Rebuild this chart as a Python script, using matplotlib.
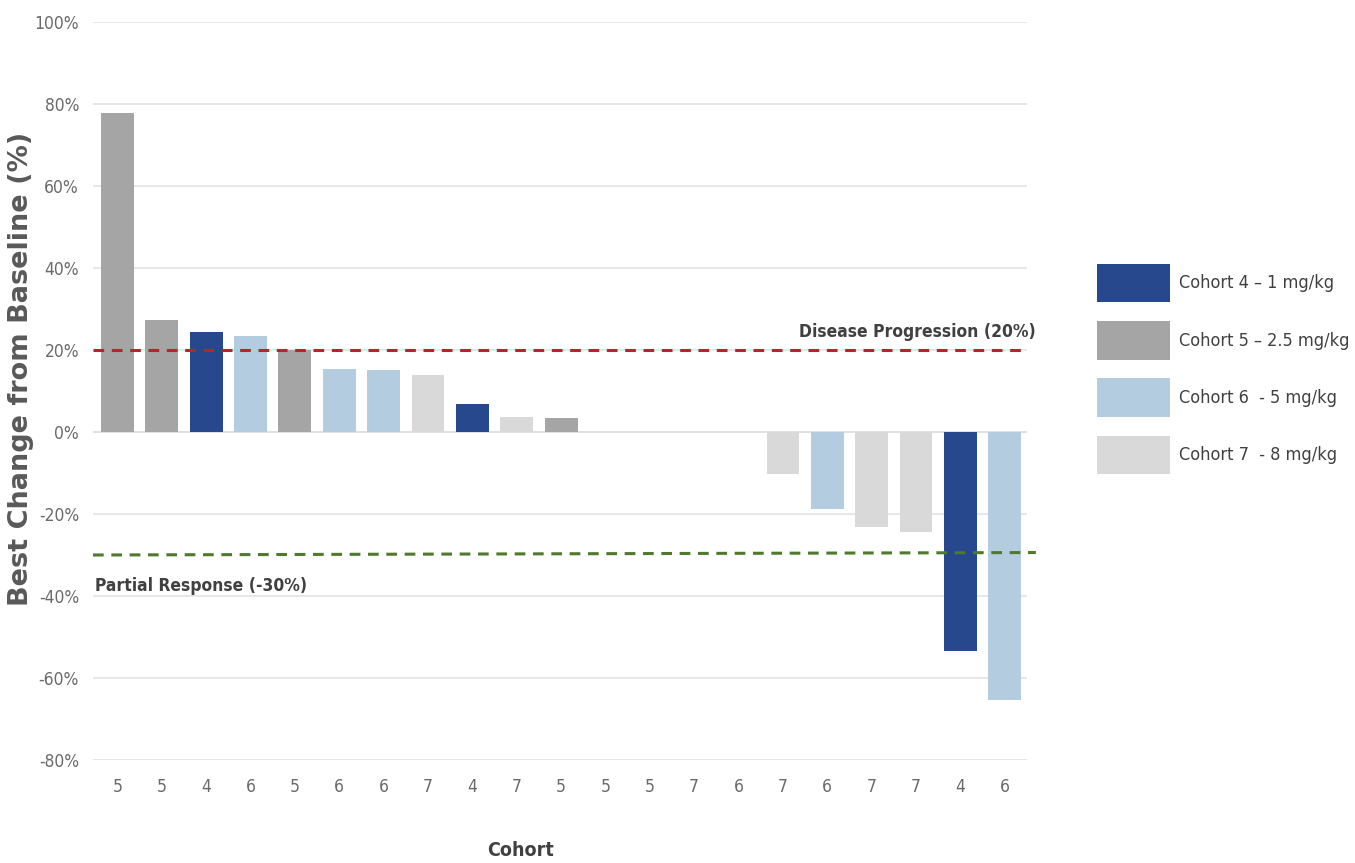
import matplotlib
matplotlib.use('Agg')
import matplotlib.pyplot as plt
from matplotlib.patches import Patch
from matplotlib.ticker import FuncFormatter

# 数据
cohorts = [5, 5, 4, 6, 5, 6, 6, 7, 4, 7, 5, 5, 5, 7, 6, 7, 6, 7, 7, 4, 6]
best_change = [77.8, 27.3, 24.4, 23.4, 20.0, 15.4, 15.1, 13.9, 6.8, 3.7, 3.4,
               0, 0, 0, 0, -10.2, -18.8, -23.2, -24.4, -53.4, -65.4]
legend_labels = {4: 'Cohort 4 \u2013 1 mg/kg', 5: 'Cohort 5 \u2013 2.5 mg/kg',
                 6: 'Cohort 6  - 5 mg/kg', 7: 'Cohort 7  - 8 mg/kg'}
progression_level = 20
response_level = -30

colors = {4: '#27488C', 5: '#A5A5A5', 6: '#B3CCE0', 7: '#D9D9D9'}
narrow = dict(family='DejaVu Sans', stretch='condensed')

fig = plt.figure(figsize=(13.55, 8.63), dpi=100)
ax = fig.add_axes([93 / 1355, 1 - 760 / 863, (1027 - 93) / 1355, (760 - 22) / 863])

x = list(range(len(cohorts)))
ax.bar(x, best_change, width=0.74, color=[colors[c] for c in cohorts], zorder=2)

ax.set_xlim(-0.55, len(cohorts) - 0.5)
ax.set_ylim(-80, 100)
ax.set_yticks(range(-80, 101, 20))
ax.yaxis.set_major_formatter(FuncFormatter(lambda v, p: f'{int(v)}%'))
ax.grid(axis='y', color='#E3E3E3', linewidth=1.2, zorder=0)
ax.axhline(0, color='#D6D6D6', linewidth=1.4, zorder=1)
for s in ax.spines.values():
    s.set_visible(False)
ax.tick_params(length=0, colors='#6A6A6A', labelsize=12.5)
ax.tick_params(axis='x', pad=13)
ax.tick_params(axis='y', pad=10)
ax.set_xticks(x)
ax.set_xticklabels([str(c) for c in cohorts])
for lbl in ax.get_xticklabels() + ax.get_yticklabels():
    lbl.set_family(narrow['family'])
    lbl.set_stretch(narrow['stretch'])

# 参考线
ax.axhline(progression_level, color='#C0202A', linestyle=(0, (3.5, 2.5)), linewidth=2.2, zorder=3)
ax.plot([-0.55, len(cohorts) - 0.3], [response_level, response_level + 0.6], color='#4F7A2E',
        linestyle=(0, (3.5, 2.5)), linewidth=2.2, zorder=3, clip_on=False)
ax.text(len(cohorts) - 0.3, progression_level + 4.5, 'Disease Progression (20%)', ha='right',
        va='center', fontsize=12.5, fontweight='bold', color='#404040', **narrow)
ax.text(-0.5, response_level - 7.5, 'Partial Response (-30%)', ha='left', va='center',
        fontsize=12.5, fontweight='bold', color='#404040', **narrow)

fig.text(21 / 1355, 1 - 369 / 863, 'Best Change from Baseline (%)', rotation=90,
         ha='center', va='center', fontsize=19.5, fontweight='bold', color='#595959',
         family='DejaVu Sans')
fig.text(520 / 1355, 1 - 850 / 863, 'Cohort', ha='center', va='center', fontsize=14,
         fontweight='bold', color='#404040', **narrow)

handles = [Patch(facecolor=colors[k], label=legend_labels[k]) for k in [4, 5, 6, 7]]
leg = fig.legend(handles=handles, loc='center left', bbox_to_anchor=(1084 / 1355, 1 - 369 / 863),
                 frameon=False, fontsize=13, handlelength=4.05, handleheight=2.9,
                 labelspacing=1.05, handletextpad=0.5, borderpad=0.2)
for t in leg.get_texts():
    t.set_family(narrow['family'])
    t.set_stretch(narrow['stretch'])
    t.set_color('#404040')

plt.savefig('out.png', dpi=100)
plt.close()
